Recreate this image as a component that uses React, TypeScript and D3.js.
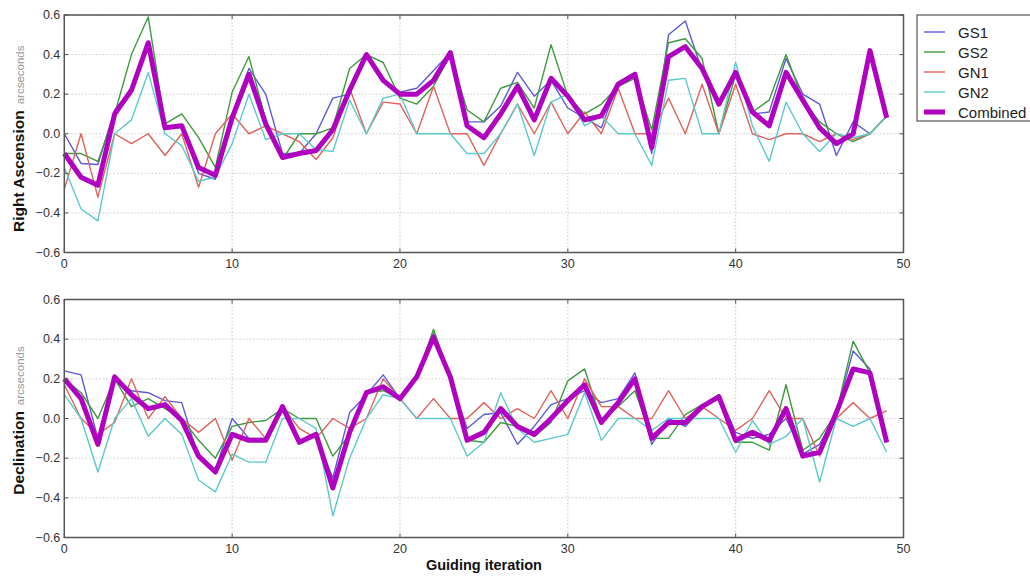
import React from "react";
import * as d3 from "d3";

const iterations = d3.range(0, 50);
const seriesNames = ["GS1", "GS2", "GN1", "GN2", "Combined"];
const yTicks = [-0.6, -0.4, -0.2, 0.0, 0.2, 0.4, 0.6];
const xTicks = [0, 10, 20, 30, 40, 50];

// Right Ascension
const raGS1 = [0.0, -0.15, -0.155, 0.12, 0.22, 0.45, 0.04, 0.03, -0.2, -0.23, 0.1, 0.33, 0.2, -0.1, -0.1, 0.0, 0.18, 0.2, 0.4, 0.27, 0.21, 0.23, 0.32, 0.41, 0.06, 0.06, 0.14, 0.31, 0.19, 0.27, 0.13, 0.08, 0.03, 0.26, 0.31, -0.1, 0.5, 0.57, 0.32, 0.15, 0.3, 0.1, 0.11, 0.38, 0.2, 0.15, -0.11, 0.06, 0.0, 0.09];
const raGS2 = [-0.1, -0.1, -0.14, 0.1, 0.4, 0.59, 0.05, 0.1, -0.02, -0.17, 0.21, 0.39, 0.07, -0.13, 0.0, 0.0, 0.03, 0.33, 0.4, 0.36, 0.18, 0.15, 0.24, 0.4, 0.12, 0.06, 0.23, 0.26, 0.13, 0.45, 0.19, 0.1, 0.15, 0.24, 0.28, 0.02, 0.46, 0.48, 0.38, 0.0, 0.3, 0.11, 0.17, 0.4, 0.17, 0.06, 0.0, -0.04, 0.0, 0.09];
const raGN1 = [-0.28, 0.0, -0.32, 0.0, -0.05, 0.0, -0.11, 0.0, -0.27, 0.0, 0.1, 0.0, 0.04, 0.0, -0.04, -0.13, -0.02, 0.23, 0.0, 0.16, 0.15, 0.0, 0.24, 0.0, 0.0, -0.16, 0.0, 0.15, 0.0, 0.16, 0.0, 0.11, 0.0, 0.23, 0.0, 0.0, 0.18, 0.0, 0.25, 0.0, 0.25, 0.0, -0.03, 0.0, 0.0, -0.04, 0.0, -0.03, 0.0, 0.09];
const raGN2 = [-0.17, -0.38, -0.44, 0.0, 0.07, 0.31, 0.0, -0.06, -0.24, -0.22, -0.05, 0.2, -0.03, 0.0, 0.0, -0.08, -0.09, 0.17, 0.0, 0.18, 0.2, 0.0, 0.0, 0.0, -0.1, -0.1, 0.0, 0.15, -0.11, 0.16, 0.2, 0.04, 0.09, 0.0, 0.0, -0.16, 0.27, 0.28, 0.0, 0.0, 0.36, 0.04, -0.14, 0.16, 0.0, -0.09, 0.0, -0.02, 0.0, 0.09];
const raCombined = [-0.1, -0.22, -0.26, 0.1, 0.22, 0.46, 0.03, 0.04, -0.17, -0.21, 0.08, 0.3, 0.05, -0.12, -0.1, -0.085, 0.02, 0.22, 0.4, 0.27, 0.2, 0.2, 0.27, 0.41, 0.04, -0.02, 0.1, 0.24, 0.07, 0.28, 0.19, 0.07, 0.09, 0.25, 0.3, -0.07, 0.39, 0.44, 0.33, 0.15, 0.31, 0.11, 0.04, 0.31, 0.17, 0.03, -0.05, 0.0, 0.42, 0.08];

// Declination
const decGS1 = [0.24, 0.22, -0.1, 0.2, 0.14, 0.13, 0.09, 0.08, -0.2, -0.26, 0.0, -0.1, -0.1, 0.06, -0.11, -0.09, -0.3, 0.03, 0.12, 0.22, 0.1, 0.21, 0.43, 0.2, -0.05, 0.02, 0.03, -0.13, -0.04, 0.07, 0.1, 0.14, 0.08, 0.1, 0.23, -0.13, 0.0, -0.04, 0.05, 0.12, -0.07, -0.1, -0.08, 0.0, -0.18, -0.13, 0.03, 0.34, 0.25, -0.12];
const decGS2 = [0.2, 0.13, 0.0, 0.2, 0.06, 0.1, 0.05, 0.0, -0.11, -0.2, -0.04, -0.02, -0.01, 0.05, 0.0, 0.0, -0.19, -0.08, 0.13, 0.14, 0.1, 0.21, 0.45, 0.2, -0.11, -0.12, -0.02, -0.04, -0.09, -0.02, 0.19, 0.25, -0.01, 0.06, 0.14, -0.1, -0.1, 0.02, 0.07, 0.1, -0.12, -0.12, -0.16, 0.17, -0.16, -0.1, 0.03, 0.39, 0.23, -0.12];
const decGN1 = [0.17, 0.0, -0.08, -0.02, 0.2, 0.0, 0.11, 0.0, -0.07, 0.0, -0.21, 0.0, -0.1, 0.06, -0.05, -0.1, 0.0, -0.05, 0.0, 0.2, 0.1, 0.0, 0.1, 0.0, 0.0, 0.08, 0.0, 0.05, 0.0, 0.14, 0.0, 0.2, 0.06, 0.06, 0.0, 0.0, 0.14, 0.0, 0.06, 0.0, -0.06, 0.0, 0.14, 0.0, 0.0, -0.19, 0.0, 0.08, 0.0, 0.04];
const decGN2 = [0.12, 0.0, -0.27, 0.0, 0.1, -0.09, 0.0, -0.08, -0.31, -0.37, -0.18, -0.22, -0.22, 0.0, 0.0, -0.05, -0.49, -0.2, 0.0, 0.12, 0.1, 0.0, 0.0, 0.0, -0.19, -0.12, 0.13, -0.05, -0.12, -0.1, -0.08, 0.13, -0.11, 0.0, 0.0, -0.06, 0.0, 0.0, 0.0, 0.0, -0.17, -0.01, -0.13, -0.09, 0.0, -0.32, 0.0, -0.04, 0.0, -0.17];
const decCombined = [0.2, 0.1, -0.13, 0.21, 0.12, 0.05, 0.07, -0.01, -0.19, -0.27, -0.08, -0.11, -0.11, 0.06, -0.12, -0.08, -0.35, -0.07, 0.13, 0.16, 0.1, 0.21, 0.41, 0.21, -0.11, -0.07, 0.05, -0.04, -0.08, 0.0, 0.09, 0.17, -0.02, 0.08, 0.2, -0.1, -0.02, -0.02, 0.06, 0.11, -0.11, -0.07, -0.11, 0.05, -0.19, -0.17, 0.03, 0.25, 0.23, -0.12];

const colors = ["#5b5bd6", "#3f9a3f", "#e0625c", "#5ccaca", "#b000c0"];
const widths = [1.4, 1.4, 1.4, 1.4, 5];

const W = 1030;
const H = 576;
const left = 64.3;
const right = 903.5;
const panels = [
  { top: 15, bottom: 252.5, label: "Right Ascension", data: [raGS1, raGS2, raGN1, raGN2, raCombined], shift: 5 },
  { top: 299.5, bottom: 537.5, label: "Declination", data: [decGS1, decGS2, decGN1, decGN2, decCombined], shift: 2 },
];
const font = "'Liberation Sans', Arial, sans-serif";

function Panel({ p, last }: { p: any; last: boolean }) {
  const x = d3.scaleLinear().domain([0, 50]).range([left, right]);
  const y = d3.scaleLinear().domain([-0.6, 0.6]).range([p.bottom, p.top]);
  const line = d3
    .line<number>()
    .x((_, i) => x(iterations[i]))
    .y((d) => y(d));
  const midY = (p.top + p.bottom) / 2 + p.shift;
  return (
    <g>
      {xTicks.map((t) => (
        <line key={"gx" + t} x1={x(t)} x2={x(t)} y1={p.top} y2={p.bottom} stroke="#bbb" strokeWidth={0.8} strokeDasharray="1.5,2" />
      ))}
      {yTicks.map((t) => (
        <line key={"gy" + t} x1={left} x2={right} y1={y(t)} y2={y(t)} stroke="#bbb" strokeWidth={0.8} strokeDasharray="1.5,2" />
      ))}
      {p.data.map((s: number[], k: number) => (
        <path key={k} d={line(s) || ""} fill="none" stroke={colors[k]} strokeWidth={widths[k]} strokeLinejoin="round" />
      ))}
      <rect x={left} y={p.top} width={right - left} height={p.bottom - p.top} fill="none" stroke="#555" strokeWidth={1.5} />
      {xTicks.map((t) => (
        <g key={"tx" + t}>
          <line x1={x(t)} x2={x(t)} y1={p.bottom} y2={p.bottom - 4} stroke="#555" />
          <line x1={x(t)} x2={x(t)} y1={p.top} y2={p.top + 4} stroke="#555" />
          <text x={x(t)} y={p.bottom + 15} textAnchor="middle" fontSize={12.5} fill="#333" fontFamily={font}>
            {t}
          </text>
        </g>
      ))}
      {yTicks.map((t) => (
        <g key={"ty" + t}>
          <line x1={left} x2={left + 4} y1={y(t)} y2={y(t)} stroke="#555" />
          <line x1={right} x2={right - 4} y1={y(t)} y2={y(t)} stroke="#555" />
          <text x={left - 4} y={y(t) + 4} textAnchor="end" fontSize={12.5} fill="#333" fontFamily={font}>
            {d3.format(".1f")(t).replace("-", "\u2212")}
          </text>
        </g>
      ))}
      <text transform={`translate(24,${midY}) rotate(-90)`} textAnchor="middle" fontFamily={font}>
        <tspan fontWeight="bold" fontSize={15.5} fill="#111">{p.label}</tspan>
        <tspan fontSize={11.5} fill="#999" dx={6}>arcseconds</tspan>
      </text>
      {last && (
        <text x={(left + right) / 2} y={570} textAnchor="middle" fontWeight="bold" fontSize={14.5} fill="#111" fontFamily={font}>
          Guiding iteration
        </text>
      )}
    </g>
  );
}

export default function App() {
  return (
    <svg width={W} height={H} style={{ position: "absolute", left: 0, top: 0, background: "#fff" }}>
      {panels.map((p, i) => (
        <Panel key={i} p={p} last={i === 1} />
      ))}
      <g>
        <rect x={917} y={15} width={130} height={106} fill="#fff" stroke="#555" strokeWidth={1.2} />
        {seriesNames.map((n, i) => (
          <g key={n}>
            <line x1={924} x2={945} y1={32 + i * 20} y2={32 + i * 20} stroke={colors[i]} strokeWidth={widths[i]} />
            <text x={958} y={32 + i * 20 + 5.5} fontSize={15} fill="#222" fontFamily={font}>
              {n}
            </text>
          </g>
        ))}
      </g>
    </svg>
  );
}
